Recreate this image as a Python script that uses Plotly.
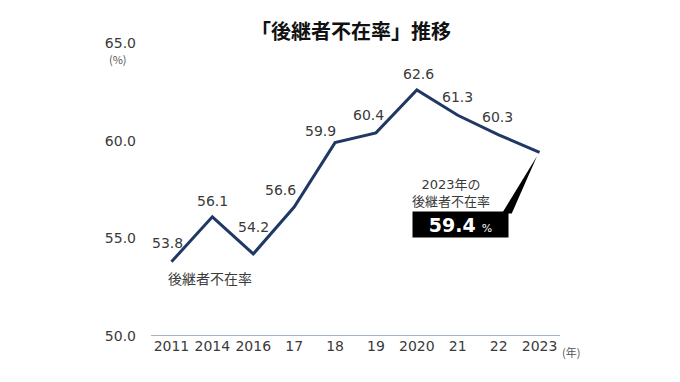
import plotly.graph_objects as go

years = ["2011", "2014", "2016", "17", "18", "19", "2020", "21", "22", "2023"]
rates = [53.8, 56.1, 54.2, 56.6, 59.9, 60.4, 62.6, 61.3, 60.3, 59.4]
y_ticks = [50.0, 55.0, 60.0, 65.0]
title_text = "「後継者不在率」推移"
series_name = "後継者不在率"

# label offsets (px) for each point's value label
label_dx = [-4, 0, 0, -14, -15, -7, 2, 0, -1, None]
label_dy = [19, 16, 27, 17, 12, 18, 16, 18, 18, None]

NAVY = "#1f3864"
FONT = "Noto Sans CJK JP"
NUMFONT = "DejaVu Sans, Noto Sans CJK JP"
GREY = "#3a3a3a"

fig = go.Figure()
fig.add_trace(go.Scatter(
    x=list(range(len(years))), y=rates, mode="lines",
    line=dict(color=NAVY, width=3), hoverinfo="skip", showlegend=False,
))

ann = []
for i, (v, dx, dy) in enumerate(zip(rates, label_dx, label_dy)):
    if dx is None:
        continue
    ann.append(dict(x=i, y=v, xref="x", yref="y", text=f"{v:.1f}", showarrow=False,
                    xanchor="center", yanchor="middle",
                    xshift=dx, yshift=dy, font=dict(family=NUMFONT, size=14, color=GREY)))

ann += [
    dict(x=0.489, y=1.044, xref="paper", yref="paper", xanchor="center", yanchor="middle",
         text=f"<b>{title_text}</b>", showarrow=False,
         font=dict(family=FONT, size=20, color="#111111")),
    dict(x=0.144, y=0.198, xref="paper", yref="paper", text=series_name, showarrow=False,
         xanchor="center", yanchor="middle",
         font=dict(family=FONT, size=14, color=GREY)),
    dict(x=-0.081, y=0.946, xref="paper", yref="paper", text="(%)", showarrow=False,
         xanchor="center", yanchor="middle",
         font=dict(family=FONT, size=11, color="#555555")),
    dict(x=1.026, y=-0.055, xref="paper", yref="paper", text="(年)", showarrow=False,
         xanchor="center", yanchor="middle",
         font=dict(family=FONT, size=11, color="#555555")),
    dict(x=0.733, y=0.488, xref="paper", yref="paper",
         text=f"{years[-1]}年の<br>{series_name}", showarrow=False, align="center",
         xanchor="center", yanchor="middle",
         font=dict(family=NUMFONT, size=13, color=GREY)),
    dict(x=0.756, y=0.381, xref="paper", yref="paper",
         text=f"<b>{rates[-1]:.1f}</b> <span style='font-size:11px'>%</span>",
         showarrow=False, bgcolor="#000000", width=89, height=19,
         xanchor="center", yanchor="middle",
         font=dict(family=NUMFONT, size=19, color="#ffffff"), borderpad=3),
]

# page body has an 8px margin: compensate so the figure lands where intended
fig.update_layout(
    width=672, height=374,
    margin=dict(l=143, r=120, t=35, b=46),
    paper_bgcolor="white", plot_bgcolor="white",
    annotations=ann,
    shapes=[dict(type="path", xref="paper", yref="paper",
                 path="M 0.858 0.418 L 0.882 0.418 L 0.944 0.614 Z",
                 fillcolor="black", line=dict(width=0))],
    xaxis=dict(range=[-0.5, 9.5], tickmode="array", tickvals=list(range(len(years))),
               ticktext=years, showgrid=False, zeroline=False, showline=False,
               tickfont=dict(family=NUMFONT, size=14, color=GREY), ticks=""),
    yaxis=dict(range=[50, 65], tickmode="array", tickvals=y_ticks,
               ticktext=[f"{t:.1f}" for t in y_ticks], showgrid=False, zeroline=False,
               showline=False, ticks="", ticklabelstandoff=14,
               tickfont=dict(family=NUMFONT, size=14, color=GREY)),
)
fig.add_hline(y=50, line=dict(color="#4a6a8a", width=1))

fig.write_html("out.html")
